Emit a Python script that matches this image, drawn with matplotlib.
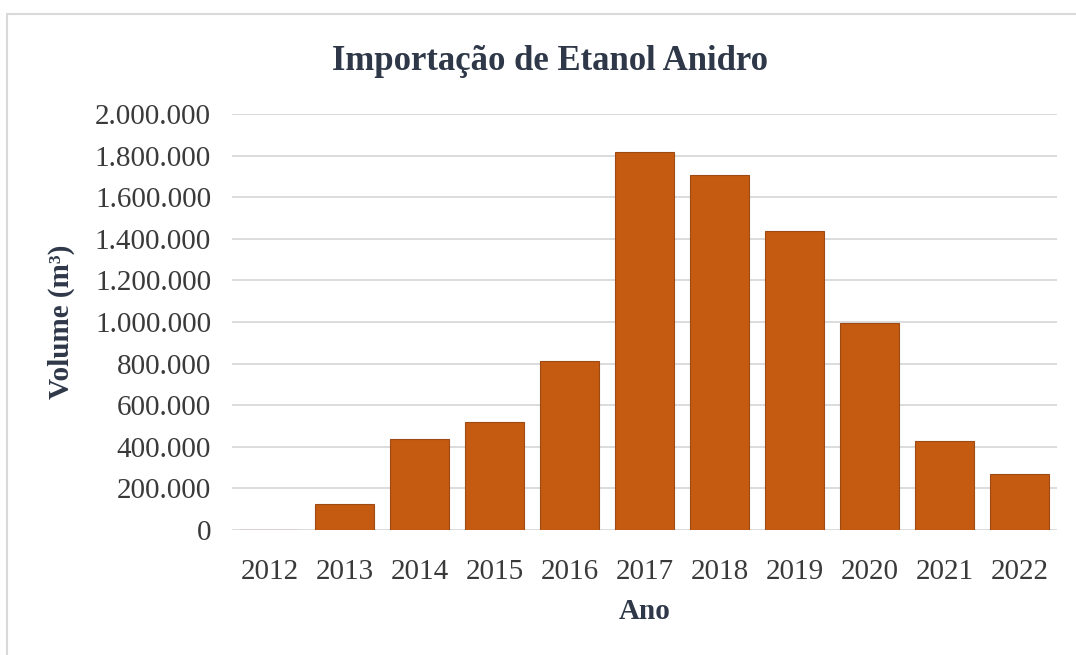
import matplotlib
matplotlib.use('Agg')  # no display available
import matplotlib.pyplot as plt
from matplotlib.patches import Rectangle
from matplotlib.ticker import FuncFormatter, MultipleLocator

# Imported anhydrous ethanol volume per year (m3)
anos = ['2012', '2013', '2014', '2015', '2016', '2017',
        '2018', '2019', '2020', '2021', '2022']
volumes = [0, 127000, 439000, 521000, 813000, 1815000,
           1709000, 1438000, 994000, 427000, 271000]

plt.rcParams['font.family'] = ['Liberation Serif', 'DejaVu Serif']

bar_color = '#C55A11'
text_dark = '#2E3848'
tick_color = '#3A3A3A'
grid_color = '#D9D9D9'


def milhar(v, pos):
    # Brazilian thousands separator
    return f'{int(v):,}'.replace(',', '.')


fig = plt.figure(figsize=(10.76, 6.55), dpi=100)
fig.patch.set_facecolor('white')

# thin frame around the chart area
fig.patches.append(Rectangle((7 / 1076, -0.05), 1.1, 1 - 14 / 655 + 0.05,
                             transform=fig.transFigure, fill=False,
                             edgecolor='#D9D9D9', linewidth=1.5))

ax = fig.add_axes([0.2156, 0.1908, 0.7667, 0.6352])
x = range(len(anos))
ax.bar(x, volumes, width=0.79, color=bar_color,
       edgecolor='#9E4A14', linewidth=0.8, zorder=3)

ax.set_xlim(-0.5, len(anos) - 0.5)
ax.set_ylim(0, 2000000)
ax.yaxis.set_major_locator(MultipleLocator(200000))
ax.yaxis.set_major_formatter(FuncFormatter(milhar))
ax.set_xticks(list(x))
ax.set_xticklabels(anos)

ax.grid(axis='y', color=grid_color, linewidth=1.3, zorder=0)
for side in ['top', 'right', 'left', 'bottom']:
    ax.spines[side].set_visible(False)
ax.tick_params(axis='y', length=0, pad=15, labelsize=21, labelcolor=tick_color)
ax.tick_params(axis='x', length=0, pad=21, labelsize=21, labelcolor=tick_color)

ax.set_xlabel('Ano', fontsize=21, fontweight='bold', color=text_dark, labelpad=9)
ax.set_ylabel('Volume (m³)', fontsize=21, fontweight='bold',
              color=text_dark, labelpad=14)

fig.text(0.511, 0.906, 'Importação de Etanol Anidro', ha='center', va='center',
         fontsize=25, fontweight='bold', color=text_dark)

fig.savefig('out.png', dpi=100, facecolor='white')
